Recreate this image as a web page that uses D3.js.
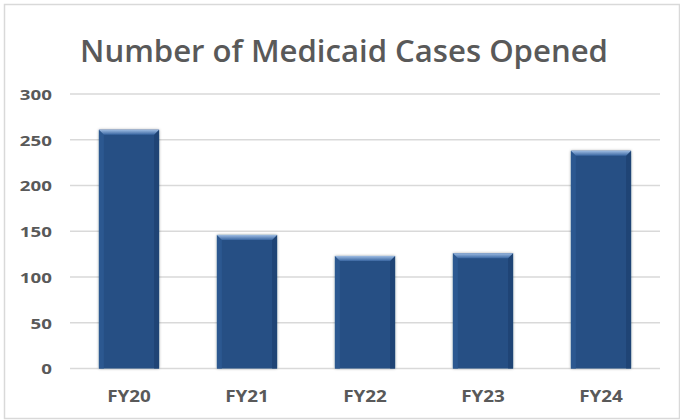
<!DOCTYPE html>
<html><head><meta charset="utf-8">
<script src="https://cdn.jsdelivr.net/npm/d3@7"></script>
<style>body{margin:0;background:#fff}svg{display:block}</style>
</head><body>
<svg id="c" width="680" height="420"></svg>
<script>
const title = "Number of Medicaid Cases Opened";
const categories = ["FY20","FY21","FY22","FY23","FY24"];
const values = [261, 146, 123, 126, 238];
const yTicks = [0, 50, 100, 150, 200, 250, 300];

const svg = d3.select("#c");
const W = 680, H = 420;
const m = {left:70, right:20, top:94, bottom:51.5};
const x = d3.scaleBand().domain(categories).range([m.left, W - m.right]).paddingInner(0.49).paddingOuter(0.245);
const y = d3.scaleLinear().domain([0, 300]).range([H - m.bottom, m.top]);

const defs = svg.append("defs");
const f = defs.append("filter").attr("id","sh").attr("x","-20%").attr("y","-10%").attr("width","140%").attr("height","120%");
f.append("feGaussianBlur").attr("in","SourceAlpha").attr("stdDeviation",1.6).attr("result","b");
f.append("feComponentTransfer").attr("in","b").attr("result","o2").append("feFuncA").attr("type","linear").attr("slope",0.35);
const mg = f.append("feMerge"); mg.append("feMergeNode").attr("in","o2"); mg.append("feMergeNode").attr("in","SourceGraphic");

const gTop = defs.append("linearGradient").attr("id","gt").attr("x1",0).attr("y1",0).attr("x2",0).attr("y2",1);
gTop.append("stop").attr("offset","0%").attr("stop-color","#9fbde3");
gTop.append("stop").attr("offset","100%").attr("stop-color","#3a67a2");

// chart border
svg.append("rect").attr("x",4.5).attr("y",4.5).attr("width",675).attr("height",414)
  .attr("fill","#fff").attr("stroke","#d9d9d9").attr("stroke-width",1.5);

// title
const t = svg.append("text").attr("x",344).attr("y",62).attr("text-anchor","middle")
  .attr("font-family","'Open Sans', sans-serif").attr("font-weight",600).attr("font-size",31)
  .attr("fill","#595959").text(title);
const tw = t.node().getComputedTextLength();
t.attr("transform",`translate(344,0) scale(${528/tw},1) translate(-344,0)`);

// gridlines
svg.append("g").selectAll("line").data(yTicks).join("line")
  .attr("x1",m.left).attr("x2",W - m.right)
  .attr("y1",d=>y(d)).attr("y2",d=>y(d))
  .attr("stroke","#d9d9d9").attr("stroke-width",1.5);

// y axis labels
const ya = svg.append("g").attr("transform",`translate(52,0)`)
  .call(d3.axisLeft(y).tickValues(yTicks).tickSize(0).tickPadding(0));
ya.select(".domain").remove();
ya.selectAll("text").attr("font-family","'Open Sans', sans-serif").attr("font-weight",700)
  .attr("font-size",15).attr("fill","#595959").attr("dy","0.36em")
  .attr("transform","scale(1.25,1)");

// x axis labels
const xa = svg.append("g").attr("transform",`translate(0,${y(0)})`)
  .call(d3.axisBottom(x).tickSize(0).tickPadding(0));
xa.select(".domain").remove();
xa.selectAll("text").attr("font-family","'Open Sans', sans-serif").attr("font-weight",700)
  .attr("font-size",16).attr("fill","#595959").attr("dy",0).attr("y",34)
  .attr("transform","scale(1.18,1)");

// bars
const bv = 5;
const bars = svg.append("g").selectAll("g").data(categories.map((c,i)=>({c, v:values[i]}))).join("g");
bars.append("rect").attr("x",d=>x(d.c)).attr("y",d=>y(d.v)).attr("width",x.bandwidth())
  .attr("height",d=>y(0)-y(d.v)).attr("fill","#264f84").attr("filter","url(#sh)");
bars.append("path").attr("fill","#2c5890").attr("d",d=>{
  const x0=x(d.c), y0=y(d.v), y1=y(0);
  return `M${x0},${y0}L${x0+bv},${y0+bv}L${x0+bv},${y1}L${x0},${y1}Z`;
});
bars.append("path").attr("fill","#1f4475").attr("d",d=>{
  const x1=x(d.c)+x.bandwidth(), y0=y(d.v), y1=y(0);
  return `M${x1},${y0}L${x1-bv},${y0+bv}L${x1-bv},${y1}L${x1},${y1}Z`;
});
bars.append("path").attr("fill","url(#gt)").attr("d",d=>{
  const x0=x(d.c), x1=x0+x.bandwidth(), y0=y(d.v);
  return `M${x0},${y0}L${x1},${y0}L${x1-bv},${y0+bv}L${x0+bv},${y0+bv}Z`;
});
</script>
</body></html>
